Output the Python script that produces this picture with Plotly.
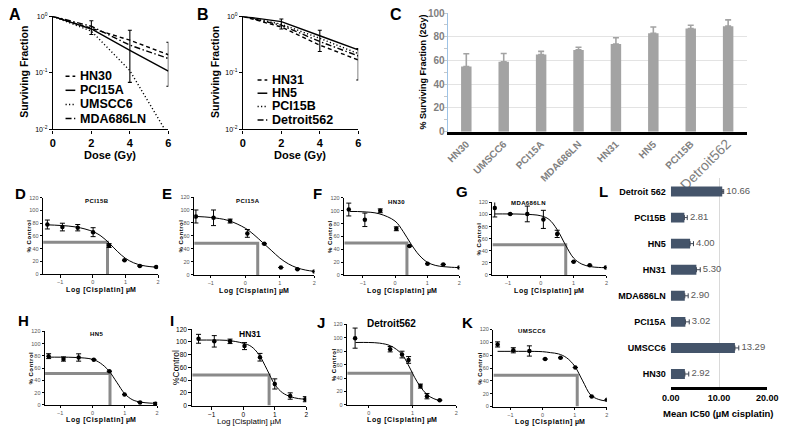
import plotly.graph_objects as go

W, H = 790, 432
SANS = "Liberation Sans, Arial, sans-serif"

# ---------------- Panel A : clonogenic survival ----------------
DOSE_GY = [0, 2, 4, 6]
A_NAMES = ["HN30", "PCI15A", "UMSCC6", "MDA686LN"]
A_HN30 = [1.0, 0.62, 0.38, 0.21]
A_PCI15A = [1.0, 0.60, 0.25, 0.108]
A_UMSCC6 = [1.0, 0.55, 0.11, 0.0078]
A_MDA686LN = [1.0, 0.67, 0.31, 0.18]
A_ERR_DOSE = [2, 4, 6]
A_ERR_LOW = [0.48, 0.068, 0.058]
A_ERR_HIGH = [0.84, 0.57, 0.35]

# ---------------- Panel B ----------------
B_NAMES = ["HN31", "HN5", "PCI15B", "Detroit562"]
B_HN31 = [1.0, 0.65, 0.31, 0.17]
B_HN5 = [1.0, 0.81, 0.455, 0.256]
B_PCI15B = [1.0, 0.73, 0.41, 0.22]
B_DETROIT562 = [1.0, 0.70, 0.36, 0.20]
B_ERR_DOSE = [2, 4, 6]
B_ERR_LOW = [0.60, 0.24, 0.075]
B_ERR_HIGH = [0.90, 0.57, 0.27]

# ---------------- Panel C : % surviving fraction at 2 Gy ----------------
C_LINES = ["HN30", "UMSCC6", "PCI15A", "MDA686LN", "HN31", "HN5", "PCI15B", "Detroit562"]
C_SF2 = [55, 59, 65, 69, 74, 83, 87, 89]
C_ERR = [10.7, 7, 2.7, 2.2, 5.2, 5.3, 2.8, 5.3]
C_YTICKS = [0, 20, 40, 60, 80, 100]

# ---------------- Panel L : mean IC50 ----------------
L_LINES = ["HN30", "UMSCC6", "PCI15A", "MDA686LN", "HN31", "HN5", "PCI15B", "Detroit 562"]
L_IC50 = [2.92, 13.29, 3.02, 2.90, 5.30, 4.00, 2.81, 10.66]
L_ERR = [0.8, 0.8, 0.8, 0.7, 0.8, 0.7, 0.6, 0.3]
L_XTICKS = [0, 10, 20]

# ---------------- Panels D-K : cisplatin dose response ----------------
FIT_LOGC = [-1.4, -1.0, -0.5, 0.0, 0.25, 0.5, 0.75, 1.0, 1.25, 1.5, 1.75, 2.0]
PCT_TICKS = [0, 20, 40, 60, 80, 100, 120]

PCI15B_LOGC = [-1.39, -0.93, -0.46, 0.01, 0.50, 0.97, 1.44, 1.94]
PCI15B_PCT = [78, 74, 73, 66, 45, 22, 13, 11.5]
PCI15B_SEM = [7, 6, 5, 7, 3, 0, 0, 0]
PCI15B_FIT = [77.5, 76.5, 74, 67, 60, 49, 36, 25, 18, 14, 12, 11]
PCI15B_IC50 = (0.45, 50)

PCI15A_LOGC = [-1.43, -0.92, -0.44, 0.06, 0.55, 1.03, 1.51, 2.0]
PCI15A_PCT = [90, 88, 83, 64, 48, 11.5, 9, 5.5]
PCI15A_SEM = [10, 12, 3, 6, 0, 0, 0, 0]
PCI15A_FIT = [90, 88.5, 84, 72, 62, 50, 38, 26, 17, 11, 7.5, 5.5]
PCI15A_IC50 = (0.36, 49)

HN30_LOGC = [-1.44, -0.94, -0.46, 0.04, 0.45, 1.01, 1.50, 2.0]
HN30_PCT = [102, 86, 100, 72, 45, 17.6, 16.5, 11.6]
HN30_SEM = [10, 10.5, 3, 3, 0, 0, 0, 0]
HN30_FIT = [99, 98.5, 95.5, 84, 68, 48, 31, 20, 15, 13, 12, 11.5]
HN30_IC50 = (0.37, 50)

MDA686LN_LOGC = [-1.40, -0.93, -0.41, 0.08, 0.50, 1.0, 1.49, 1.98]
MDA686LN_PCT = [111, 101, 101, 92, 68, 22, 16, 12.4]
MDA686LN_SEM = [15, 0, 13, 15, 6, 0, 0, 0]
MDA686LN_FIT = [101, 101, 100.5, 98, 92, 75, 50, 28, 18, 14, 12.5, 12]
MDA686LN_IC50 = (0.76, 50)

HN5_LOGC = [-1.36, -0.90, -0.43, 0.04, 0.52, 0.99, 1.47, 1.95]
HN5_PCT = [79.7, 75, 77.5, 74, 55, 17, 4, 2]
HN5_SEM = [4, 3.5, 6, 0, 0, 0, 0, 2]
HN5_FIT = [78, 78, 77.5, 74.5, 68, 56, 37, 18, 8, 4.5, 3, 2.5]
HN5_IC50 = (0.54, 51.5)

HN31_LOGC = [-1.42, -0.92, -0.42, 0.04, 0.53, 1.0, 1.49, 1.97]
HN31_PCT = [105, 101, 101, 93.5, 76, 34, 15, 10]
HN31_SEM = [7, 9, 3.5, 5.5, 6, 8, 5, 4]
HN31_FIT = [103, 103, 102.5, 98, 93, 80, 57, 33, 20, 14, 11, 10]
HN31_IC50 = (0.82, 48)

DET562_LOGC = [-0.31, 0.49, 0.76, 0.91, 1.18, 1.33, 1.62]
DET562_PCT = [99.5, 83, 75, 67, 28, 13, 7]
DET562_SEM = [15, 4, 5, 5, 3, 4, 0]
DET562_FIT_LOGC = [-0.3, 0.0, 0.25, 0.5, 0.75, 0.9, 1.0, 1.1, 1.25, 1.4, 1.62]
DET562_FIT = [93, 93, 92, 88, 76, 60, 47, 35, 21, 12, 6]
DET562_IC50 = (0.98, 47)

UMSCC6_LOGC = [-1.40, -0.91, -0.41, 0.08, 0.56, 1.02, 1.53, 2.01]
UMSCC6_PCT = [96.8, 87.7, 86.6, 74, 76, 60.8, 15.7, 10.6]
UMSCC6_SEM = [4, 4, 8, 0, 0, 0, 0, 0]
UMSCC6_FIT = [86, 86, 86, 85.5, 84, 82, 76, 63, 40, 18, 11, 8.5]
UMSCC6_IC50 = (1.08, 48.6)

# =====================================================================
fig = go.Figure()
layout = {}
annotations = []
shapes = []


def ids(i):
    if i == 1:
        return "xaxis", "yaxis", "x", "y"
    return f"xaxis{i}", f"yaxis{i}", f"x{i}", f"y{i}"


def axes(i, xpx, ypx, xcfg, ycfg):
    xa, ya, xr, yr = ids(i)
    layout[xa] = dict(domain=[xpx[0] / W, xpx[1] / W], anchor=yr, **xcfg)
    layout[ya] = dict(domain=[1 - ypx[1] / H, 1 - ypx[0] / H], anchor=xr, **ycfg)
    return xr, yr


def note(text, x, y, size, color="black", family=SANS, weight="normal", angle=0,
         xanchor="center", yanchor="middle"):
    annotations.append(dict(text=text, x=x / W, y=1 - y / H, xref="paper", yref="paper",
                            showarrow=False, textangle=angle, xanchor=xanchor,
                            yanchor=yanchor,
                            font=dict(size=size, color=color, family=family, weight=weight)))


def hline_px(x0, x1, y, dash="solid", width=1.5):
    shapes.append(dict(type="line", xref="paper", yref="paper", x0=x0 / W, x1=x1 / W,
                       y0=1 - y / H, y1=1 - y / H,
                       line=dict(color="black", width=width, dash=dash)))


DASHES = ["4px,3px", "solid", "1.2px,2.3px", "6px,2.5px,1.5px,2.5px"]


# ---------------- survival panels A & B ----------------
def survival(i, xpx, names, series, err_dose, err_low, err_high):
    common_line = dict(showline=True, linecolor="black", linewidth=1.2, ticks="outside",
                       tickcolor="black", ticklen=3, showgrid=False, zeroline=False)
    xr, yr = axes(
        i, xpx, (10.7, 126.7),
        dict(range=[0, 6], tickvals=DOSE_GY,
             tickfont=dict(size=11, family=SANS, weight="bold", color="black"),
             **common_line),
        dict(type="log", range=[-2, 0], tickvals=[1, 0.1, 0.01],
             ticktext=["10<sup>0</sup>", "10<sup>-1</sup>", "10<sup>-2</sup>"],
             tickfont=dict(size=7, family=SANS, color="black"), **common_line))
    for name, vals, dash in zip(names, series, DASHES):
        fig.add_trace(go.Scatter(x=DOSE_GY, y=vals, mode="lines", name=name,
                                 line=dict(color="black", width=1.4, dash=dash),
                                 xaxis=xr, yaxis=yr, showlegend=False))
    centre = [(lo * hi) ** 0.5 for lo, hi in zip(err_low, err_high)]
    fig.add_trace(go.Scatter(
        x=err_dose, y=centre, mode="markers",
        marker=dict(size=1, color="rgba(0,0,0,0)"),
        error_y=dict(type="data", symmetric=False,
                     array=[hi - c for hi, c in zip(err_high, centre)],
                     arrayminus=[c - lo for lo, c in zip(err_low, centre)],
                     color="black", thickness=1.1, width=2),
        xaxis=xr, yaxis=yr, showlegend=False, hoverinfo="skip"))


survival(1, (45, 163.5), A_NAMES, [A_HN30, A_PCI15A, A_UMSCC6, A_MDA686LN],
         A_ERR_DOSE, A_ERR_LOW, A_ERR_HIGH)
survival(2, (240, 358.3), B_NAMES, [B_HN31, B_HN5, B_PCI15B, B_DETROIT562],
         B_ERR_DOSE, B_ERR_LOW, B_ERR_HIGH)

for cx, ytx in ((104, 16), (299, 212)):
    note("Dose (Gy)", cx, 153, 11, weight="bold")
    note("Surviving Fraction", ytx, 68, 10.5, weight="bold", angle=-90)
note("A", 6, 9, 16, weight="bold")
note("B", 199, 9, 16, weight="bold")

for name, dash, yy in zip(A_NAMES, DASHES, (72, 86.5, 101, 115.5)):
    hline_px(58, 68, yy, dash=dash)
    note(name, 71, yy, 12.5, weight="bold", xanchor="left")
for name, dash, yy in zip(B_NAMES, DASHES, (76, 89.5, 103, 117)):
    hline_px(255, 265, yy, dash=dash)
    note(name, 268, yy, 12.5, weight="bold", xanchor="left")

# ---------------- Panel C ----------------
xr, yr = axes(
    3, (450, 757), (7.3, 129),
    dict(type="category", showline=True, linecolor="black", linewidth=2.5, ticks="",
         tickangle=-45, tickvals=C_LINES,
         ticktext=C_LINES[:-1] + ['<span style="font-size:14px;font-weight:normal">'
                                  + C_LINES[-1] + "</span>"],
         tickfont=dict(size=10, color="#7f7f7f", family=SANS, weight="bold"),
         showgrid=False),
    dict(range=[0, 100], tickvals=C_YTICKS, showline=True, linecolor="#9dc3e6",
         linewidth=1, gridcolor="#e3e3e3", gridwidth=1, zeroline=False, ticks="",
         tickfont=dict(size=10, color="#7f7f7f", family=SANS, weight="bold"),
         minor=dict(dtick=10, ticks="outside", ticklen=3, tickcolor="#c8c8c8",
                    showgrid=False)))
fig.add_trace(go.Bar(x=C_LINES, y=C_SF2, width=0.28, marker=dict(color="#a3a3a3", line_width=0),
                     error_y=dict(type="data", symmetric=False, array=C_ERR,
                                  arrayminus=[0] * len(C_ERR), color="#a3a3a3",
                                  thickness=1.6, width=3),
                     xaxis=xr, yaxis=yr, showlegend=False))
note("C", 397, 9, 16, weight="bold")
note("% Surviving Fraction (2Gy)", 425, 68, 9, weight="bold", angle=-90)

# ---------------- Panel L ----------------
xr, yr = axes(
    8, (679, 778), (177, 391),
    dict(range=[0, 20], tickvals=L_XTICKS, tickformat=".2f", showline=True,
         linecolor="black", linewidth=2.5, ticks="", showgrid=True, gridcolor="#d9d9d9",
         zeroline=False, tickfont=dict(size=9, family=SANS, weight="bold", color="black")),
    dict(type="category", categoryarray=L_LINES, categoryorder="array", showline=False,
         ticks="", showgrid=False, zeroline=False, ticklabelstandoff=4,
         tickfont=dict(size=9, family=SANS, weight="bold", color="black")))
fig.add_trace(go.Bar(x=L_IC50, y=L_LINES, orientation="h", width=0.38,
                     marker=dict(color="#44546a", line_width=0),
                     error_x=dict(type="data", symmetric=False, array=L_ERR,
                                  arrayminus=[0] * len(L_ERR), color="#3a4250",
                                  thickness=1, width=2.5),
                     xaxis=xr, yaxis=yr, showlegend=False))
fig.add_trace(go.Scatter(x=[v + e for v, e in zip(L_IC50, L_ERR)], y=L_LINES, mode="text",
                         text=[f" {v:.2f}" for v in L_IC50], textposition="middle right",
                         textfont=dict(size=9.5, color="#595959", family=SANS),
                         xaxis=xr, yaxis=yr, showlegend=False, cliponaxis=False))
note("L", 610, 190, 15, weight="bold")
note("Mean IC50 (µM cisplatin)", 728, 418, 9.5, weight="bold")


# ---------------- Panels D-K ----------------
def dose_panel(i, xpx, ypx, xrange, xticks, logc, pct, sem, fitx, fity, ic50,
               letter, letter_xy, title, title_xy, plain=False):
    if plain:
        tf = dict(size=6.5, family=SANS, color="black")
        tl = 3
    else:
        tf = dict(size=5.5, family=SANS, color="#555555")
        tl = 2.5
    common = dict(showline=True, linecolor="black", linewidth=1, ticks="outside",
                  tickcolor="black", ticklen=tl, showgrid=False, zeroline=False, tickfont=tf)
    xr, yr = axes(i, xpx, ypx, dict(range=xrange, tickvals=xticks, **common),
                  dict(range=[0, 120], tickvals=PCT_TICKS, **common))
    ic_x, ic_y = ic50
    fig.add_trace(go.Scatter(x=[xrange[0], ic_x, ic_x], y=[ic_y, ic_y, 0], mode="lines",
                             line=dict(color="#8a8a8a", width=3), xaxis=xr, yaxis=yr,
                             showlegend=False, hoverinfo="skip"))
    fig.add_trace(go.Scatter(x=fitx, y=fity, mode="lines", line=dict(color="black", width=1,
                             shape="spline", smoothing=1.0), xaxis=xr, yaxis=yr,
                             showlegend=False))
    fig.add_trace(go.Scatter(x=logc, y=pct, mode="markers",
                             marker=dict(size=4.5, color="black"),
                             error_y=dict(type="data", array=sem, color="black",
                                          thickness=1, width=2.5),
                             xaxis=xr, yaxis=yr, showlegend=False))
    note(letter, letter_xy[0], letter_xy[1], 15, weight="bold")
    xmid = (xpx[0] + xpx[1]) / 2
    if plain:
        note(title, title_xy[0], title_xy[1], 8.5, weight="bold")
        note("Log [Cisplatin] µM", xmid, ypx[1] + 16.5, 8)
        note("%Control", xpx[0] - 16, (ypx[0] + ypx[1]) / 2, 8.5, angle=-90)
    else:
        tsize = 10 if title == "Detroit562" else 6
        tstyle = "" if title == "Detroit562" else ' style="letter-spacing:0.4px"'
        note(f"<span{tstyle}>{title}</span>", title_xy[0], title_xy[1], tsize, weight="bold")
        note('<span style="letter-spacing:0.6px">Log [Cisplatin]</span> µM', xmid,
             ypx[1] + 16, 7, weight="bold")
        note('<span style="letter-spacing:0.5px">% Control</span>', xpx[0] - 14,
             (ypx[0] + ypx[1]) / 2, 6, weight="bold", angle=-90)


dose_panel(4, (35, 153), (196.7, 275.3), [-1.52, 2.0], [-1, 0, 1, 2],
           PCI15B_LOGC, PCI15B_PCT, PCI15B_SEM, FIT_LOGC, PCI15B_FIT, PCI15B_IC50,
           "D", (12, 192), "PCI15B", (90, 200))
dose_panel(5, (190, 313.3), (196, 276), [-1.48, 2.0], [-1, 0, 1, 2],
           PCI15A_LOGC, PCI15A_PCT, PCI15A_SEM, FIT_LOGC, PCI15A_FIT, PCI15A_IC50,
           "E", (162, 192), "PCI15A", (245, 200))
dose_panel(6, (344, 462), (197, 276), [-1.58, 2.0], [-1, 0, 1, 2],
           HN30_LOGC, HN30_PCT, HN30_SEM, FIT_LOGC, HN30_FIT, HN30_IC50,
           "F", (317, 192), "HN30", (398, 201))
dose_panel(7, (496, 613), (201.6, 276), [-1.47, 2.0], [-1, 0, 1, 2],
           MDA686LN_LOGC, MDA686LN_PCT, MDA686LN_SEM, FIT_LOGC, MDA686LN_FIT, MDA686LN_IC50,
           "G", (465, 190), "MDA686LN", (533, 202))
dose_panel(9, (37, 152), (334, 409.3), [-1.47, 2.0], [-1, 0, 1, 2],
           HN5_LOGC, HN5_PCT, HN5_SEM, FIT_LOGC, HN5_FIT, HN5_IC50,
           "H", (15, 323), "HN5", (90, 337))
dose_panel(10, (188, 305), (331.7, 410), [-1.62, 2.0], [-1, 0, 1, 2],
           HN31_LOGC, HN31_PCT, HN31_SEM, FIT_LOGC, HN31_FIT, HN31_IC50,
           "I", (167, 323), "HN31", (247, 337), plain=True)
dose_panel(11, (347, 459), (326.7, 409.3), [-0.49, 2.0], [0, 1, 2],
           DET562_LOGC, DET562_PCT, DET562_SEM, DET562_FIT_LOGC, DET562_FIT, DET562_IC50,
           "J", (320, 325), "Detroit562", (392, 326))
dose_panel(12, (497, 613.3), (332, 411), [-1.53, 2.0], [-1, 0, 1, 2],
           UMSCC6_LOGC, UMSCC6_PCT, UMSCC6_SEM, FIT_LOGC, UMSCC6_FIT, UMSCC6_IC50,
           "K", (470, 325), "UMSCC6", (537, 333))

layout.update(dict(width=W, height=H, margin=dict(l=0, r=0, t=0, b=0),
                   paper_bgcolor="white", plot_bgcolor="white", showlegend=False,
                   font=dict(family=SANS, color="black"), bargap=0.7,
                   annotations=annotations, shapes=shapes))
fig.update_layout(**layout)
fig.write_html("out.html", config={"displayModeBar": False},
               post_script="document.body.style.margin='0px';document.body.style.padding='0px';")
